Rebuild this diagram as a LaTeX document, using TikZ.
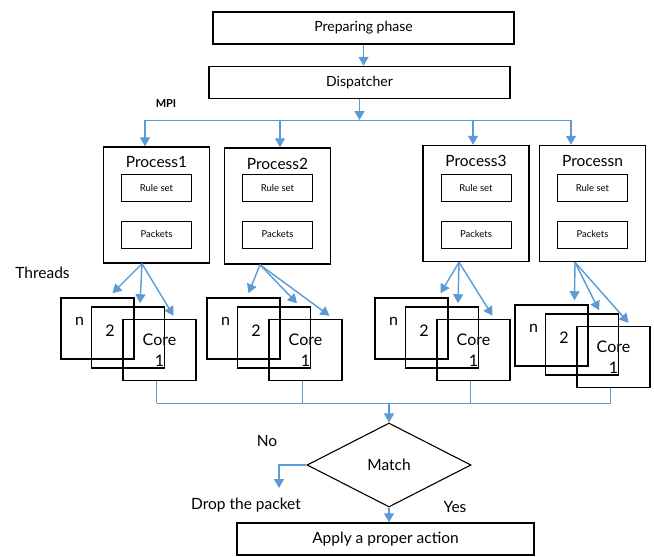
\documentclass[tikz,border=0pt]{standalone}
\usepackage{fontspec}
\setmainfont{Lato}
\usetikzlibrary{arrows.meta,shapes.geometric}
\definecolor{flowblue}{RGB}{91,155,213}

\begin{document}
\begin{tikzpicture}[
  x=1pt,y=-1pt,
  font=\fontsize{15.5}{18}\selectfont,
  box/.style={draw,line width=1.5pt,inner sep=0pt,minimum width=301pt,minimum height=32pt},
  proc/.style={draw,line width=1.5pt,inner sep=0pt,minimum width=106pt,minimum height=116pt},
  title/.style={font=\fontsize{15.5}{18}\selectfont,anchor=north,yshift=-7pt},
  part/.style={draw,line width=0.8pt,inner sep=0pt,minimum width=70pt,minimum height=27pt,font=\fontsize{9.5}{11}\selectfont},
  core/.style={draw,line width=1.5pt,inner sep=0pt,minimum width=73pt,minimum height=61pt,align=center,font=\fontsize{16}{21}\selectfont},
  corelabel/.style={font=\fontsize{16}{18}\selectfont,xshift=-18pt,yshift=7pt},
  decision/.style={draw,diamond,line width=1.1pt,inner sep=0pt,minimum width=164pt,minimum height=84pt,aspect=1.95},
  flow/.style={draw=flowblue,line width=1.4pt,-{Triangle[length=9pt,width=10pt]}},
  wire/.style={draw=flowblue,line width=0.9pt}
]
  \useasboundingbox (0,0) rectangle (654,557);

  % top of the flow
  \node[box,font=\fontsize{14}{16}\selectfont] (prep) at (363.5,28) {Preparing phase};
  \node[box,font=\fontsize{14}{16}\selectfont] (disp) at (359.5,82.5) {Dispatcher};
  \draw[flow] (prep.south) -- (prep.south |- disp.north);

  % MPI bus to the processes
  \node[font=\fontsize{11}{13}\selectfont\bfseries] (mpi) at (166,104) {MPI};
  \coordinate (mpi1) at (145,120);
  \coordinate (mpi2) at (280,120);
  \coordinate (mpi3) at (473,120);
  \coordinate (mpi4) at (571,120);
  \draw[flow] (disp.south) -- (disp.south |- mpi1);
  \draw[wire] (mpi1) -- (mpi4);

  \foreach \p/\t/\x/\y in {p1/Process1/156.5/205, p2/Process2/277.5/206,
                           p3/Process3/476/203.5, pn/Processn/592.5/203.5} {
    \node[proc,label={[title]north:\t}] (\p) at (\x,\y) {};
    \node[part] (\p-rules) at (\x,188) {Rule set};
    \node[part] (\p-packets) at (\x,234.5) {Packets};
  }
  \foreach \i/\p in {1/p1,2/p2,3/p3,4/pn}
    \draw[flow] (mpi\i) -- (mpi\i |- \p.north);

  % threads on the cores
  \node (threads) at (42.5,273) {Threads};
  \foreach \g/\x/\y/\s/\o/\na/\nb/\nc in {1/61/298/p1/-14.5/15/12/14, 2/207/298/p2/-17.5/5/23/24,
                                         3/375/298/p3/-17/29/16/19, 4/515/305/pn/-17.5/23/17/15} {
    \node[core,label={[corelabel]center:n}] (n\g) at (\x+36.5,\y+30.5) {};
    \node[core,label={[corelabel]center:2}] (two\g) at (\x+67,\y+39.5) {};
    \node[core] (core\g) at (\x+98.5,\y+52) {Core\\1};
    \draw[flow] ([xshift=\o pt]\s.south) -- ([shift={(\na,-4)}]n\g.north);
    \draw[flow] ([xshift=\o pt]\s.south) -- ([shift={(\nb,-3)}]two\g.north);
    \draw[flow] ([xshift=\o pt]\s.south) -- ([shift={(\nc,-3)}]core\g.north);
  }

  % matching
  \coordinate (join) at (389,403);
  \foreach \g in {1,...,4}
    \draw[wire] ([xshift=-3pt]core\g.south) -- ([xshift=-3pt]core\g.south |- join);
  \draw[wire] ([xshift=-3pt]core1.south |- join) -- ([xshift=-3pt]core4.south |- join);
  \node[decision] (match) at (389,465) {Match};
  \draw[flow] (join) -- (match.north);

  \node (no) at (267,441) {No};
  \node (drop) at (246,505) {Drop the packet};
  \coordinate (dropin) at (279,488);
  \draw[flow] (match.west) -| (dropin);

  \node (yes) at (455,507) {Yes};
  \node[box,minimum width=297pt] (apply) at (385.5,539) {Apply a proper action};
  \draw[flow] (match.south) -- (match.south |- apply.north);
\end{tikzpicture}
\end{document}
